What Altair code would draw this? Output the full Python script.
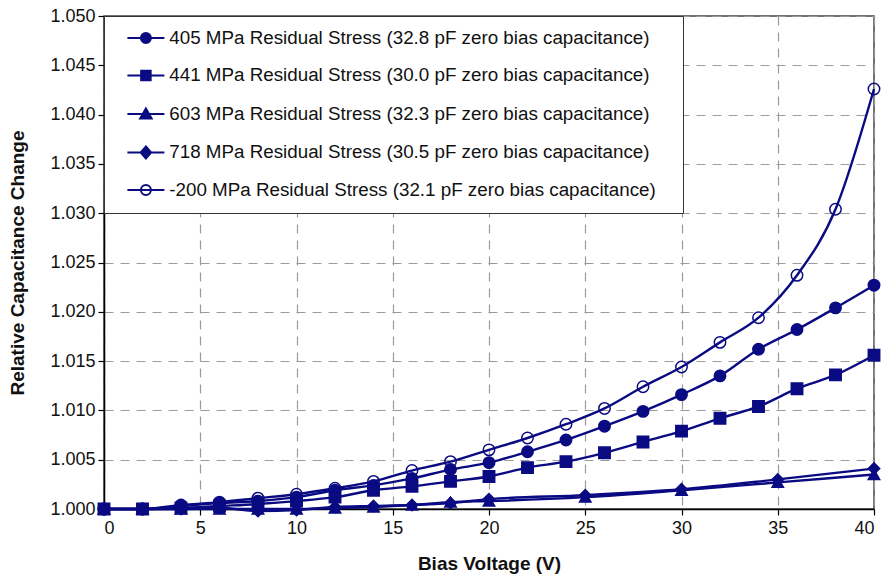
import altair as alt
import pandas as pd

NAVY = "#0a0a82"

series_names = [
    "405 MPa Residual Stress (32.8 pF zero bias capacitance)",
    "441 MPa Residual Stress (30.0 pF zero bias capacitance)",
    "603 MPa Residual Stress (32.3 pF zero bias capacitance)",
    "718 MPa Residual Stress (30.5 pF zero bias capacitance)",
    "-200 MPa Residual Stress (32.1 pF zero bias capacitance)",
]
marker_shapes = ["circle", "square", "triangle-up", "diamond", "circle"]
marker_fills = [NAVY, NAVY, NAVY, NAVY, "transparent"]

x_main = [0, 2, 4, 6, 8, 10, 12, 14, 16, 18, 20, 22, 24, 26, 28, 30, 32, 34, 36, 38, 40]
x_low = [0, 2, 4, 6, 8, 10, 12, 14, 16, 18, 20, 25, 30, 35, 40]

s405 = [1.0000, 1.0000, 1.0003, 1.0006, 1.0008, 1.0012, 1.0019, 1.0024, 1.0031, 1.0040, 1.0047,
        1.0058, 1.0070, 1.0084, 1.0099, 1.0116, 1.0135, 1.0162, 1.0182, 1.0204, 1.0227]
s441 = [1.0000, 1.0000, 1.0001, 1.0003, 1.0005, 1.0008, 1.0012, 1.0019, 1.0023, 1.0028, 1.0033,
        1.0042, 1.0048, 1.0057, 1.0068, 1.0079, 1.0092, 1.0104, 1.0122, 1.0136, 1.0156]
s603 = [1.0000, 1.0000, 1.0000, 1.0000, 1.0000, 1.0000, 1.0001, 1.0002, 1.0004, 1.0007, 1.0008,
        1.0012, 1.0019, 1.0027, 1.0035]
s718 = [1.0000, 1.0000, 1.0000, 1.0001, 0.9998, 0.9999, 1.0002, 1.0003, 1.0004, 1.0006, 1.0010,
        1.0014, 1.0020, 1.0030, 1.0041]
sm200 = [1.0000, 1.0000, 1.0004, 1.0007, 1.0011, 1.0015, 1.0021, 1.0028, 1.0039, 1.0048, 1.0060,
         1.0072, 1.0086, 1.0102, 1.0124, 1.0144, 1.0169, 1.0194, 1.0237, 1.0304, 1.0426]

x_ticks = [0, 5, 10, 15, 20, 25, 30, 35, 40]
y_ticks = [1.000, 1.005, 1.010, 1.015, 1.020, 1.025, 1.030, 1.035, 1.040, 1.045, 1.050]

rows = []
for name, xs, ys in [
    (series_names[0], x_main, s405),
    (series_names[1], x_main, s441),
    (series_names[2], x_low, s603),
    (series_names[3], x_low, s718),
    (series_names[4], x_main, sm200),
]:
    for xv, yv in zip(xs, ys):
        rows.append({"series": name, "x": xv, "y": yv})
df = pd.DataFrame(rows)

# legend symbols: a line segment through the marker
L = 3.7
legend_paths = [
    f"M{-L},0H{L}M-1,0A1,1 0 1,0 1,0A1,1 0 1,0 -1,0Z",
    f"M{-L},0H{L}M-0.95,-0.95H0.95V0.95H-0.95Z",
    f"M{-L},0H{L}M0,-1.1L1.15,0.9H-1.15Z",
    f"M{-L},0H{L}M0,-1.2L1.05,0L0,1.2L-1.05,0Z",
    f"M{-L},0H{L}M-1,0A1,1 0 1,0 1,0A1,1 0 1,0 -1,0Z",
]

x_enc = alt.X("x:Q", scale=alt.Scale(domain=[0, 40], nice=False),
              axis=alt.Axis(values=x_ticks, title="Bias Voltage (V)", format="d"))
y_enc = alt.Y("y:Q", scale=alt.Scale(domain=[1.0, 1.05], nice=False, zero=False),
              axis=alt.Axis(values=y_ticks, title="Relative Capacitance Change", format=".3f"))

base = alt.Chart(df)

lines = base.mark_line(color=NAVY, strokeWidth=2.4, interpolate="monotone").encode(
    x=x_enc, y=y_enc, detail="series:N"
)

point_layers = []
for name, shp, fc in zip(series_names, marker_shapes, marker_fills):
    point_layers.append(
        base.transform_filter(alt.datum.series == name)
        .mark_point(shape=shp, fill=fc, filled=(fc != "transparent"), size=130,
                    stroke=NAVY, strokeWidth=1.5, opacity=1)
        .encode(x="x:Q", y="y:Q")
    )

legend = alt.Legend(
    title=None, orient="none", legendX=0, legendY=0,
    labelExpr="datum.label + '\u2800'",
)

legend_layer = base.transform_filter("datum.x < -1000").mark_point(
    size=100, strokeWidth=2, opacity=1
).encode(
    x="x:Q", y="y:Q",
    shape=alt.Shape("series:N", scale=alt.Scale(domain=series_names, range=legend_paths),
                    legend=legend),
    fill=alt.Fill("series:N", scale=alt.Scale(domain=series_names, range=marker_fills),
                  legend=legend),
    stroke=alt.Stroke("series:N", scale=alt.Scale(domain=series_names, range=[NAVY] * 5),
                      legend=legend),
)

FONT = "Liberation Sans"

chart = alt.layer(lines, *point_layers, legend_layer).properties(
    width=770, height=493,
    padding={"left": 104, "top": 16, "right": 9, "bottom": 68},
    autosize="none",
).configure(
    font=FONT,
).configure_view(
    stroke="#444", strokeWidth=1.5,
).configure_axis(
    grid=True, gridColor="#9a9a9a", gridDash=[9, 7], gridWidth=1.2,
    domainColor="#000", domainWidth=1.5, tickColor="#000", tickSize=6, tickWidth=1.2,
    labelFontSize=18, labelColor="#111", labelFont=FONT,
    titleFontSize=19, titleFontWeight="bold", titleColor="#111", titleFont=FONT,
).configure_axisX(
    labelPadding=4, titlePadding=17,
).configure_axisY(
    labelPadding=3, titlePadding=22,
).configure_legend(
    strokeColor="#333", fillColor="white", padding=12.5, rowPadding=17.5,
    labelFontSize=18.8, labelFont=FONT, labelColor="#111", symbolSize=100,
    symbolStrokeWidth=2, symbolOffset=20, labelOffset=14, labelLimit=800,
)

chart.save("out.html", embed_options={"renderer": "svg", "actions": False})
